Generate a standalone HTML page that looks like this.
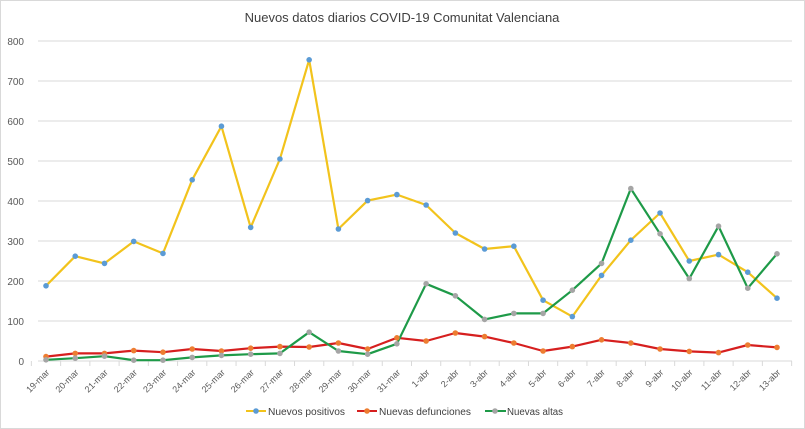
<!DOCTYPE html>
<html><head><meta charset="utf-8"><style>
body{margin:0;background:#fff}
svg{display:block;font-family:"Liberation Sans",sans-serif}
</style></head><body>
<svg width="805" height="429" viewBox="0 0 805 429">
<rect x="0.5" y="0.5" width="804" height="428" fill="#fff" stroke="#d9d9d9"/>
<text x="402" y="22" text-anchor="middle" font-size="13" fill="#404040">Nuevos datos diarios COVID-19 Comunitat Valenciana</text>
<g id="grid" stroke="#d9d9d9" stroke-width="1"></g>
<g id="ylab" font-size="10" fill="#595959" text-anchor="end"></g>
<g id="xlab" font-size="9" fill="#595959"></g>
<g id="series"></g>
<g font-size="10" fill="#404040">
<line x1="246" y1="411" x2="266" y2="411" stroke="#f2c31c" stroke-width="2"/><circle cx="256" cy="411" r="2.8" fill="#5b9bd5"/><text x="268" y="415" textLength="77" lengthAdjust="spacingAndGlyphs">Nuevos positivos</text>
<line x1="357" y1="411" x2="377" y2="411" stroke="#d61f1f" stroke-width="2"/><circle cx="367" cy="411" r="2.8" fill="#ed7d31"/><text x="379" y="415" textLength="92" lengthAdjust="spacingAndGlyphs">Nuevas defunciones</text>
<line x1="485" y1="411" x2="506" y2="411" stroke="#1e9a48" stroke-width="2"/><circle cx="495" cy="411" r="2.8" fill="#a5a5a5"/><text x="507" y="415" textLength="56" lengthAdjust="spacingAndGlyphs">Nuevas altas</text>
</g>
</svg>
<script>
const NS="http://www.w3.org/2000/svg";
function el(t,a,p){const e=document.createElementNS(NS,t);for(const k in a)e.setAttribute(k,a[k]);document.getElementById(p).appendChild(e);return e;}
const y0=361,sc=0.4,x0=46,dx=29.24;
for(let v=0;v<=800;v+=100){const y=y0-v*sc;el('line',{x1:38,x2:792,y1:y,y2:y},'grid');const t=el('text',{x:24,y:y+4},'ylab');t.textContent=v;}
for(let i=0;i<=26;i++){const x=x0-dx/2+i*dx;el('line',{x1:x,x2:x,y1:y0,y2:y0+5},'grid');}
const labs=[];for(let d=19;d<=31;d++)labs.push(d+'-mar');for(let d=1;d<=13;d++)labs.push(d+'-abr');
labs.forEach((l,i)=>{const x=x0+i*dx+4,y=y0+12;const t=el('text',{x:x,y:y,'text-anchor':'end',transform:`rotate(-45 ${x} ${y})`},'xlab');t.textContent=l;});
const P=[188,262,244,299,269,453,587,334,505,753,330,401,416,390,320,280,287,152,111,214,302,370,250,266,222,157];
const D=[11,19,19,26,22,30,25,32,36,35,45,30,58,50,70,61,45,25,36,53,45,30,24,21,40,34];
const A=[3,7,12,2,2,9,14,17,19,72,25,17,43,193,163,104,119,119,177,244,431,318,206,337,182,268];
function ser(d,c,m){el('polyline',{points:d.map((v,i)=>(x0+i*dx)+','+(y0-v*sc)).join(' '),fill:'none',stroke:c,'stroke-width':2.2,'stroke-linejoin':'round'},'series');return ()=>d.forEach((v,i)=>el('circle',{cx:x0+i*dx,cy:y0-v*sc,r:2.8,fill:m},'series'));}
const a=ser(P,'#f2c31c','#5b9bd5'),b=ser(D,'#d61f1f','#ed7d31'),c=ser(A,'#1e9a48','#a5a5a5');a();b();c();
</script>
</body></html>
